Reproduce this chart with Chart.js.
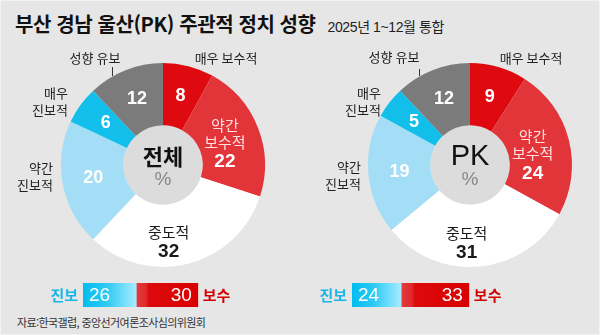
<!DOCTYPE html>
<html lang="ko">
<head>
<meta charset="utf-8">
<script src="https://cdn.jsdelivr.net/npm/chart.js@4.4.1/dist/chart.umd.min.js"></script>
<style>
  html, body { margin: 0; padding: 0; }
  body { width: 600px; height: 335px; overflow: hidden; background: #f2f2f2; }
  #wrap { position: relative; width: 598px; height: 333px; margin: 1px; background: #e6e6e6;
          font-family: "Liberation Sans", "Noto Sans CJK KR", sans-serif; }
  .title { position: absolute; left: 14px; top: 8px; font-size: 20px; font-weight: 700; color: #111;
           letter-spacing: -0.4px; font-family: "Noto Sans CJK KR", sans-serif; white-space: nowrap; }
  .title span { font-size: 14px; font-weight: 400; letter-spacing: -0.4px; margin-left: 12px; color: #222;
                font-family: "Liberation Sans", "Noto Sans CJK KR", sans-serif; }
  .box { position: absolute; }
  .src { position: absolute; left: 16px; top: 313px; font-size: 11px; color: #333; letter-spacing: -0.6px;
         font-family: "Noto Sans CJK KR", sans-serif; }
</style>
</head>
<body>
<div id="wrap">
  <div class="title">부산 경남 울산(PK) 주관적 정치 성향<span>2025년 1~12월 통합</span></div>
  <div class="box" style="left:0;top:0;width:300px;height:270px"><canvas id="donutAll"></canvas></div>
  <div class="box" style="left:300px;top:0;width:298px;height:270px"><canvas id="donutPK"></canvas></div>
  <div class="box" style="left:0;top:275px;width:300px;height:36px"><canvas id="barAll"></canvas></div>
  <div class="box" style="left:300px;top:275px;width:298px;height:36px"><canvas id="barPK"></canvas></div>
  <div class="src">자료:한국갤럽, 중앙선거여론조사심의위원회</div>
</div>
<script>
// 데이터 (단위: %)
const categories = ['매우 보수적', '약간 보수적', '중도적', '약간 진보적', '매우 진보적', '성향 유보'];
const totalValues = [8, 22, 32, 20, 6, 12];
const pkValues = [9, 24, 31, 19, 5, 12];
const centerTitles = ['전체', 'PK'];
const leanLabels = ['진보', '보수'];
const totalLean = [26, 30];
const pkLean = [24, 33];

const sliceColors = ['#de0a0f', '#e2353a', '#ffffff', '#a3def6', '#12bfea', '#7b7b7b'];
const KR = '"Noto Sans CJK KR", sans-serif';
const NUM = '"Liberation Sans", "Noto Sans CJK KR", sans-serif';

// 조각 안쪽 라벨: 이름을 같이 쓰는 조각만 true
const nameInside = [false, true, true, false, false, false];
const insideColors = ['#fff', '#fff', '#1a1a1a', '#fff', '#fff', '#fff'];

// 바깥 라벨 (중심 기준 위치)
const outerLayouts = [
  [
    { lines: ['성향 유보'], dx: -68, dy: -107, align: 'center', tick: [-51, -98, -89] },
    { lines: ['매우 보수적'], dx: 63, dy: -107, align: 'center' },
    { lines: ['매우', '진보적'], dx: -95, dy: -72, align: 'right' },
    { lines: ['약간', '진보적'], dx: -110, dy: 3, align: 'right' }
  ],
  [
    { lines: ['성향 유보'], dx: -76, dy: -108, align: 'center', tick: [-51, -96, -89] },
    { lines: ['매우 보수적'], dx: 61, dy: -107, align: 'center' },
    { lines: ['매우', '진보적'], dx: -89, dy: -72, align: 'right' },
    { lines: ['약간', '진보적'], dx: -109, dy: 2, align: 'right' }
  ]
];

const donutLabels = {
  id: 'donutLabels',
  beforeDatasetsDraw(chart) {
    const arc = chart.getDatasetMeta(0).data[0];
    if (!arc) return;
    const { ctx } = chart;
    ctx.save();
    ctx.beginPath();
    ctx.arc(arc.x, arc.y, arc.innerRadius, 0, Math.PI * 2);
    ctx.fillStyle = '#dcdcdc';
    ctx.fill();
    ctx.restore();
  },
  afterDatasetsDraw(chart, args, opts) {
    const { ctx } = chart;
    const meta = chart.getDatasetMeta(0);
    const values = chart.data.datasets[0].data;
    const cx = meta.data[0].x, cy = meta.data[0].y;
    ctx.save();
    ctx.textAlign = 'center';
    ctx.textBaseline = 'middle';

    meta.data.forEach((a, i) => {
      const p = a.tooltipPosition();
      const shift = (opts.shifts && opts.shifts[i]) || [0, 0];
      const x = p.x + shift[0], y = p.y + shift[1];
      ctx.fillStyle = insideColors[i];
      if (nameInside[i]) {
        const words = categories[i].split(' ');
        const lh = 17;
        const top = y - (words.length * lh) / 2;
        ctx.font = '400 15px ' + KR;
        ctx.fillStyle = i === 1 ? '#ffe0e0' : '#1a1a1a';
        words.forEach((w, k) => ctx.fillText(w, x, top + k * lh + 6));
        ctx.font = '700 19px ' + NUM;
        ctx.fillStyle = insideColors[i];
        ctx.fillText(values[i], x, top + words.length * lh + 9);
      } else {
        ctx.font = '700 18px ' + NUM;
        ctx.fillText(values[i], x, y);
      }
    });

    // 가운데 제목
    ctx.fillStyle = '#111';
    ctx.font = opts.center === 'PK' ? '500 29px ' + NUM : '700 22px ' + KR;
    ctx.fillText(opts.center, cx, cy - 8);
    ctx.fillStyle = '#888';
    ctx.font = '400 19px ' + NUM;
    ctx.fillText('%', cx, cy + 15);

    // 바깥 라벨
    ctx.fillStyle = '#222';
    ctx.font = '400 13px ' + KR;
    opts.outer.forEach(o => {
      ctx.textAlign = o.align;
      o.lines.forEach((t, k) => ctx.fillText(t, cx + o.dx, cy + o.dy + k * 17));
      if (o.tick) {
        ctx.strokeStyle = '#333';
        ctx.lineWidth = 1;
        ctx.beginPath();
        ctx.moveTo(cx + o.tick[0] + 0.5, cy + o.tick[1]);
        ctx.lineTo(cx + o.tick[0] + 0.5, cy + o.tick[2]);
        ctx.stroke();
      }
    });
    ctx.restore();
  }
};

function makeDonut(id, values, center, pad, outer, shifts) {
  return new Chart(document.getElementById(id), {
    type: 'doughnut',
    data: {
      labels: categories,
      datasets: [{
        data: values,
        backgroundColor: sliceColors,
        borderWidth: 0,
        hoverOffset: 0
      }]
    },
    options: {
      responsive: true,
      maintainAspectRatio: false,
      animation: false,
      cutout: '39%',
      layout: { padding: pad },
      events: [],
      plugins: {
        legend: { display: false },
        tooltip: { enabled: false },
        donutLabels: { center: center, outer: outer, shifts: shifts }
      }
    },
    plugins: [donutLabels]
  });
}

makeDonut('donutAll', totalValues, centerTitles[0],
  { left: 60, right: 36, top: 62, bottom: 4 }, outerLayouts[0],
  { 1: [-4, -3], 2: [-12, 1] });
makeDonut('donutPK', pkValues, centerTitles[1],
  { left: 67, right: 27, top: 62, bottom: 4 }, outerLayouts[1],
  { 1: [-6, 0], 2: [-10, 0] });

// 진보 / 보수 막대
function gradientFor(chart, which) {
  const { ctx, chartArea, scales } = chart;
  if (!chartArea) return which === 0 ? '#14c0ee' : '#de0a0f';
  const vals = chart.data.datasets.map(d => d.data[0]);
  const x0 = scales.x.getPixelForValue(which === 0 ? 0 : vals[0]);
  const x1 = scales.x.getPixelForValue(which === 0 ? vals[0] : vals[0] + vals[1]);
  const g = ctx.createLinearGradient(x0, 0, x1, 0);
  if (which === 0) {
    g.addColorStop(0, '#00bdf0');
    g.addColorStop(0.45, '#2fcaf4');
    g.addColorStop(1, '#a6ecff');
  } else {
    g.addColorStop(0, '#e33c3e');
    g.addColorStop(0.16, '#e0282c');
    g.addColorStop(0.2, '#dc0a0d');
    g.addColorStop(1, '#da0000');
  }
  return g;
}

const barLabels = {
  id: 'barLabels',
  afterDatasetsDraw(chart) {
    const { ctx } = chart;
    const a = chart.getDatasetMeta(0).data[0];
    const b = chart.getDatasetMeta(1).data[0];
    const y = a.y;
    ctx.save();
    ctx.textBaseline = 'middle';
    ctx.font = '400 19px ' + NUM;
    ctx.fillStyle = '#fff';
    ctx.textAlign = 'left';
    ctx.fillText(chart.data.datasets[0].data[0], a.base + 6, y + 1);
    ctx.textAlign = 'right';
    ctx.fillText(chart.data.datasets[1].data[0], b.x - 6, y + 1);
    ctx.font = '700 15px ' + KR;
    ctx.fillStyle = '#1ab6e6';
    ctx.fillText(leanLabels[0], a.base - 5, y);
    ctx.textAlign = 'left';
    ctx.fillStyle = '#d40000';
    ctx.fillText(leanLabels[1], b.x + 5, y);
    ctx.restore();
  }
};

function makeBar(id, lean, pad) {
  return new Chart(document.getElementById(id), {
    type: 'bar',
    data: {
      labels: [''],
      datasets: leanLabels.map((name, i) => ({
        label: name,
        data: [lean[i]],
        backgroundColor: ctx => gradientFor(ctx.chart, i),
        borderWidth: 0,
        barPercentage: 1,
        categoryPercentage: 1
      }))
    },
    options: {
      indexAxis: 'y',
      responsive: true,
      maintainAspectRatio: false,
      animation: false,
      events: [],
      layout: { padding: pad },
      scales: {
        x: { stacked: true, min: 0, max: 60, display: false },
        y: { stacked: true, display: false }
      },
      plugins: { legend: { display: false }, tooltip: { enabled: false } }
    },
    plugins: [barLabels]
  });
}

makeBar('barAll', totalLean, { left: 82, right: 95, top: 7, bottom: 5 });
makeBar('barPK', pkLean, { left: 51, right: 124, top: 7, bottom: 5 });
</script>
</body>
</html>
